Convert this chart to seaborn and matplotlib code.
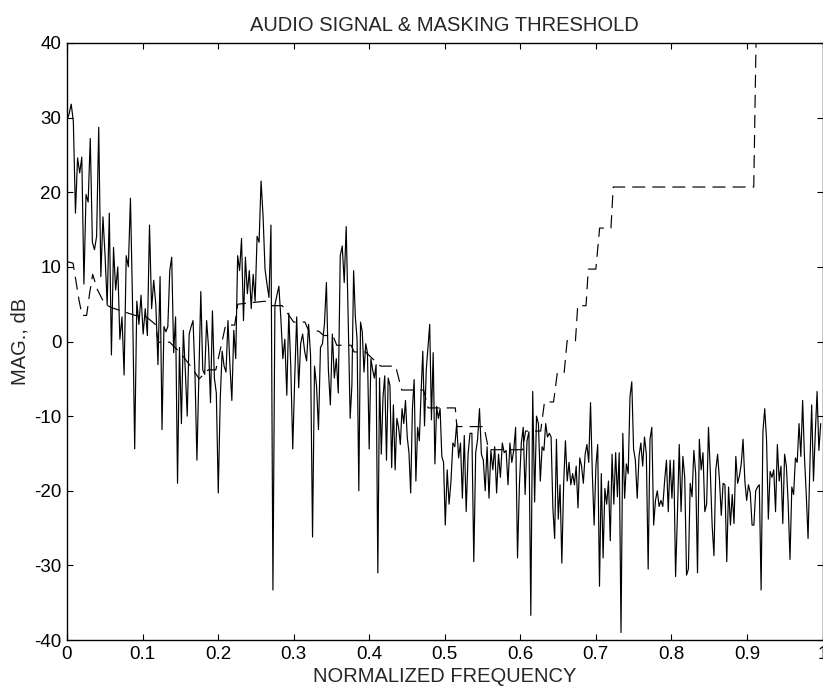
import numpy as np
import pandas as pd
import matplotlib
matplotlib.use("Agg")
import matplotlib.pyplot as plt
import seaborn as sns

# spectrum magnitude (dB) in eight frequency bands
band_edges = [0.0, 0.1232, 0.2490, 0.3748, 0.5007, 0.6265, 0.7523, 0.8781, 1.0]

band1_db = [29.7, 30.5, 31.8, 29.5, 17.2, 24.6, 22.6, 24.7, 7.7, 19.7, 18.7, 27.2,
            13.3, 12.3, 14.1, 28.7, 8.7, 16.7, 11.5, 4.9, 17.2, -1.8, 12.6, 6.9,
            10.0, 0.3, 3.3, -4.5, 11.5, 10.0, 19.2, 4.9, -14.4, 5.4, 2.3, 6.2,
            1.0, 4.4, 0.8, 15.6, 4.4, 8.2, 4.9, -3.1]
band2_db = [8.7, -11.8, 2.0, 1.3, 2.0, 9.5, 11.3, -1.5, 3.3, -19.0, -0.8, -11.0,
            1.5, -3.8, -10.0, 1.0, 2.0, 2.8, -4.4, -15.9, -4.9, 6.7, -3.8, -4.4,
            2.8, -0.8, -8.2, 4.1, -4.9, -6.9, -20.3, -7.9, -1.3, -3.3, -4.1, 2.8,
            -3.1, -7.9, 1.5, -2.3, 11.5, 9.5, 13.8, 2.8, 11.3, 6.4, 9.5, 4.4, 9.0]
band3_db = [5.4, 14.1, 13.3, 21.5, 16.9, 9.7, 7.7, 5.9, 15.6, -33.3, 4.9, 6.2,
            7.4, 3.1, -2.3, 0.3, -7.2, 3.8, -3.3, -14.4, -4.9, 3.3, -6.2, -0.3,
            1.0, -1.3, -2.6, 2.3, -1.8, -26.2, -3.3, -5.9, -11.8, -0.8, -0.3, 2.3,
            7.9, -3.8, -8.5, 1.0, -4.9, -2.3, -6.9, 11.5, 12.8, 7.9, 15.4, 3.1]
band4_db = [-10.3, -5.9, 9.5, 3.3, 0.3, -20.0, 2.6, 1.3, -4.1, -0.3, -1.5, -14.4,
            -2.3, -3.8, -4.9, -3.1, -31.0, -4.9, -15.1, -7.4, -4.6, -15.9, -4.9, -5.9,
            -16.9, -8.5, -17.2, -10.3, -11.5, -13.8, -9.0, -11.0, -7.9, -12.8, -14.9, -20.3,
            -9.0, -5.1, -18.7, -11.5, -13.3, -6.9, -1.3, -11.3, -3.8, -0.8, 2.3, -10.5,
            -1.5, -16.4, -8.7, -10.3, -9.0, -15.4, -16.2]
band5_db = [-24.6, -17.2, -21.8, -18.7, -13.6, -14.1, -11.0, -15.6, -13.6, -21.0, -12.6, -22.8,
            -15.1, -12.3, -12.3, -29.5, -14.9, -13.1, -9.0, -15.1, -15.9, -20.0, -14.1, -21.0,
            -14.6, -17.2, -14.1, -20.3, -15.1, -18.2, -13.6, -14.9, -14.6, -19.2, -13.6, -16.2,
            -14.6, -11.5, -29.0, -19.2, -13.6, -11.5, -20.5, -13.3, -12.1, -36.7, -6.7, -21.5,
            -10.0, -11.0]
band6_db = [-18.7, -14.1, -14.6, -11.0, -12.8, -12.3, -12.8, -22.3, -26.4, -13.1, -23.8, -19.2,
            -29.7, -19.2, -13.3, -18.7, -16.2, -19.2, -17.7, -19.2, -16.7, -22.3, -15.6, -16.7,
            -19.0, -15.1, -13.8, -16.2, -8.2, -17.7, -24.6, -16.7, -13.8, -32.8, -17.7, -29.0,
            -19.7, -21.8, -18.7, -26.7, -15.1, -21.8, -14.9, -20.8, -14.9, -39.0, -12.3, -21.0,
            -16.4, -17.7, -7.4, -5.4, -14.4]
band7_db = [-15.9, -21.0, -15.4, -13.6, -16.7, -12.8, -15.1, -30.5, -13.1, -11.5, -24.6, -21.3,
            -20.0, -22.1, -21.3, -22.1, -18.7, -15.9, -22.8, -15.9, -21.0, -15.9, -31.5, -23.3,
            -13.8, -22.8, -15.4, -18.2, -31.3, -30.5, -19.0, -20.8, -14.6, -17.7, -31.0, -13.1,
            -17.2, -14.9, -22.8, -21.8, -11.5, -17.4, -24.6, -28.7, -17.2, -15.1, -18.5, -23.3,
            -19.0, -19.2, -29.5, -19.5]
band8_db = [-24.6, -20.5, -24.4, -15.4, -19.0, -18.0, -16.4, -13.1, -18.7, -21.3, -19.2, -20.3,
            -24.6, -24.6, -20.0, -19.5, -19.2, -33.3, -12.1, -9.0, -13.1, -23.8, -17.4, -18.2,
            -17.2, -22.8, -13.8, -18.7, -16.7, -24.4, -15.1, -16.7, -21.8, -29.2, -19.5, -20.5,
            -15.6, -16.2, -11.0, -15.4, -7.9, -15.4, -20.5, -26.4, -16.7, -8.5, -18.7, -12.3,
            -6.7, -14.6, -11.0]

# masking threshold (dB), stepwise
thr_freq = [0.000, 0.008, 0.012, 0.016, 0.020, 0.026, 0.030, 0.034, 0.040, 0.050,
            0.060, 0.075, 0.090, 0.105, 0.117, 0.121, 0.136, 0.150, 0.165, 0.175,
            0.180, 0.187, 0.197, 0.210, 0.222, 0.226, 0.262, 0.268, 0.285, 0.300,
            0.315, 0.320, 0.333, 0.340, 0.352, 0.357, 0.376, 0.380, 0.395, 0.415,
            0.435, 0.443, 0.472, 0.478, 0.514, 0.516, 0.552, 0.558, 0.603, 0.607,
            0.627, 0.632, 0.644, 0.649, 0.658, 0.662, 0.673, 0.676, 0.687, 0.690,
            0.700, 0.705, 0.720, 0.723, 0.909, 0.912, 1.000]
thr_db = [10.7, 10.5, 8.0, 5.5, 3.5, 3.5, 6.5, 9.0, 7.0, 5.0,
          4.5, 4.0, 3.5, 3.3, 2.3, -0.1, -0.1, -1.5, -3.5, -5.0,
          -4.5, -3.8, -3.8, 2.2, 2.2, 5.0, 5.4, 4.8, 4.8, 2.6,
          2.6, 1.4, 1.4, 0.8, 0.8, -0.5, -0.5, -1.4, -1.4, -3.3,
          -3.3, -6.5, -6.5, -8.9, -8.9, -11.4, -11.4, -14.5, -14.5, -12.0,
          -12.0, -8.1, -8.1, -4.2, -4.2, 0.1, 0.1, 4.8, 4.8, 9.7,
          9.7, 15.2, 15.2, 20.7, 20.7, 40.0, 40.0]

x_ticks = [0, 0.1, 0.2, 0.3, 0.4, 0.5, 0.6, 0.7, 0.8, 0.9, 1.0]
x_labels = ["0", "0.1", "0.2", "0.3", "0.4", "0.5", "0.6", "0.7", "0.8", "0.9", "1"]
y_ticks = [-40, -30, -20, -10, 0, 10, 20, 30, 40]
y_labels = ["-40", "-30", "-20", "-10", "0", "10", "20", "30", "40"]

bands = [band1_db, band2_db, band3_db, band4_db, band5_db, band6_db, band7_db, band8_db]
freq = np.concatenate([np.linspace(band_edges[i], band_edges[i + 1], len(b), endpoint=False)
                       for i, b in enumerate(bands)])
spec = pd.DataFrame({"freq": freq, "db": np.concatenate(bands)})
mask = pd.DataFrame({"freq": thr_freq, "db": thr_db})

sns.set_theme(style="ticks")
plt.rcParams["font.family"] = ["Liberation Sans", "DejaVu Sans"]

fig = plt.figure(figsize=(8.23, 6.89), dpi=100)
ax = fig.add_axes([0.0814, 0.0711, 0.918, 0.8665])

sns.lineplot(data=spec, x="freq", y="db", ax=ax, color="black", lw=0.85,
             estimator=None, sort=False)
sns.lineplot(data=mask, x="freq", y="db", ax=ax, color="black", lw=0.85,
             estimator=None, sort=False, linestyle=(0, (11, 6)))

ax.set_xlim(0, 1)
ax.set_ylim(-40, 40)
ax.set_xticks(x_ticks)
ax.set_xticklabels(x_labels)
ax.set_yticks(y_ticks)
ax.set_yticklabels(y_labels)
ax.tick_params(direction="in", top=True, right=True, length=4, width=0.8,
               labelsize=13.5, colors="black", pad=4)
for s in ax.spines.values():
    s.set_linewidth(1.0)
    s.set_color("black")

ax.set_title("AUDIO SIGNAL & MASKING THRESHOLD", fontsize=14.5, pad=8.5)
ax.set_xlabel("NORMALIZED FREQUENCY", fontsize=14.5, labelpad=3)
ax.set_ylabel("MAG., dB", fontsize=14.5, labelpad=3)

fig.savefig("out.png", dpi=100)
